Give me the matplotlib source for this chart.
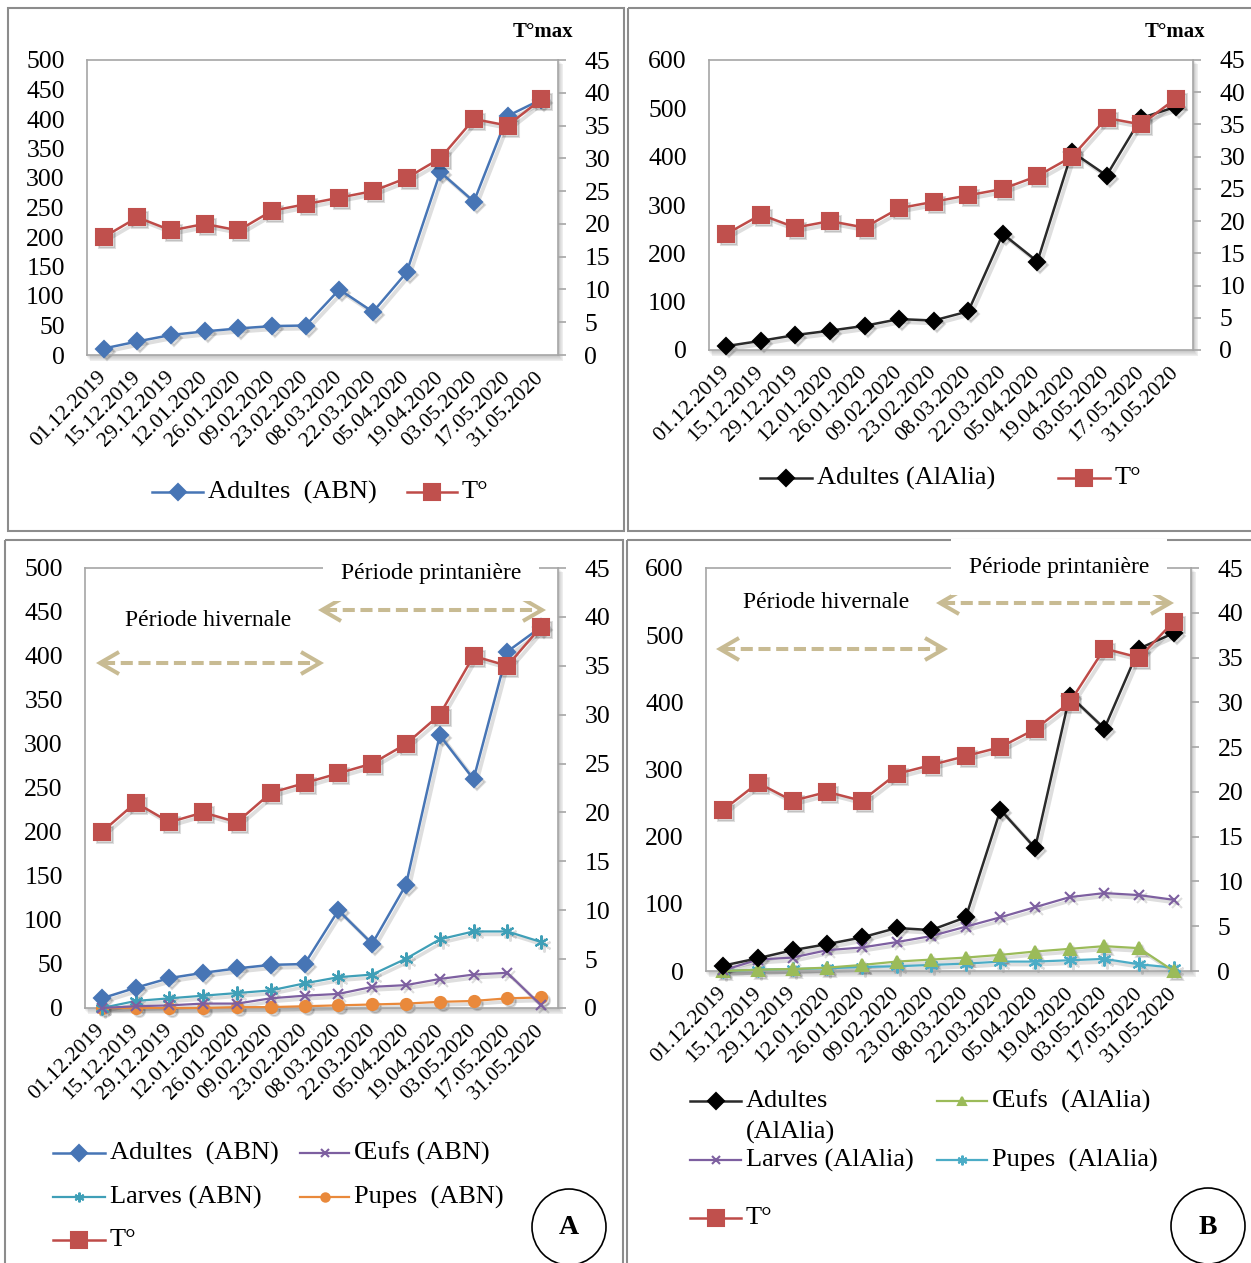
import matplotlib
matplotlib.use("Agg")
import matplotlib.pyplot as plt
import matplotlib.transforms as mtransforms
from matplotlib.lines import Line2D
from matplotlib.patches import Rectangle, Ellipse

plt.rcParams['font.family'] = ['Liberation Serif', 'DejaVu Serif']

W, H = 1251, 1263

dates = ["01.12.2019", "15.12.2019", "29.12.2019", "12.01.2020", "26.01.2020",
         "09.02.2020", "23.02.2020", "08.03.2020", "22.03.2020", "05.04.2020",
         "19.04.2020", "03.05.2020", "17.05.2020", "31.05.2020"]

# maximum temperature (right axis)
temp_max = [18, 21, 19, 20, 19, 22, 23, 24, 25, 27, 30, 36, 35, 39]

# ABN station
adultes_abn = [11, 23, 34, 40, 45, 49, 50, 111, 73, 140, 310, 260, 405, 433]
oeufs_abn = [0, 2, 3, 5, 5, 11, 14, 16, 24, 26, 33, 38, 40, 3]
larves_abn = [0, 8, 11, 14, 17, 20, 28, 35, 38, 56, 78, 87, 87, 75]
pupes_abn = [0, 0, 0, 0, 1, 1, 2, 3, 4, 5, 7, 8, 11, 12]

# AlAlia station
adultes_alalia = [8, 19, 31, 40, 50, 64, 61, 80, 240, 183, 410, 361, 480, 503]
oeufs_alalia = [0, 2, 3, 5, 9, 14, 17, 20, 24, 29, 33, 37, 34, 0]
larves_alalia = [1, 17, 20, 31, 35, 43, 52, 66, 80, 95, 110, 116, 113, 106]
pupes_alalia = [0, 2, 3, 4, 6, 7, 9, 11, 14, 14, 16, 18, 10, 5]

BLUE = '#4775b5'
RED = '#be4b48'
RED_M = '#c0504d'
PURPLE = '#7d5fa0'
TEAL = '#3f9fb7'
ORANGE = '#e9893b'
DARK = '#2a2a2a'
GREEN = '#9bbb59'
CYAN = '#4bacc6'
TAN = '#c8bb93'
FRAME = '#a6a6a6'
ASTER = (6, 2, 0)

fig = plt.figure(figsize=(W / 100, H / 100), dpi=100)
# pixel coordinates, origin top-left
pix = mtransforms.Affine2D().scale(1 / W, -1 / H).translate(0, 1) + fig.transFigure


def make_axes(x0, x1, ytop, ybot, ymax, ystep):
    ax = fig.add_axes([x0 / W, 1 - ybot / H, (x1 - x0) / W, (ybot - ytop) / H])
    # soft drop shadow round the plot area
    for i in range(1, 7):
        fig.add_artist(Rectangle((x0 - 1 + i * 0.7, ytop - 1 + i * 0.9), x1 - x0 + 2, ybot - ytop + 2,
                                 transform=pix, fc='k', ec='none', alpha=0.035, zorder=-1))
    ax.set_xlim(-0.5, 13.5)
    ax.set_ylim(0, ymax)
    ax.set_yticks(range(0, ymax + 1, ystep))
    ax.tick_params(axis='y', length=0, pad=16, labelsize=18.5)
    ax.set_xticks(range(len(dates)))
    ax.set_xticklabels(dates, rotation=45, ha='right', va='center', rotation_mode='anchor', fontsize=15.7)
    ax.tick_params(axis='x', length=0, pad=14)
    for s in ax.spines.values():
        s.set_color(FRAME)
        s.set_linewidth(1.2)
    ax2 = ax.twinx()
    ax2.set_ylim(0, 45)
    ax2.set_yticks(range(0, 46, 5))
    ax2.tick_params(axis='y', length=6, width=1.2, color=FRAME, pad=13, labelsize=18.5)
    for s in ax2.spines.values():
        s.set_visible(False)
    return ax, ax2


def series(ax, values, color, marker, ms, lw, mfc=None, mew=1.5, z=3):
    mfc = color if mfc is None else mfc
    shadow = mtransforms.offset_copy(ax.transData, fig=fig, x=3, y=-3, units='dots')
    ax.plot(range(len(values)), values, color='k', alpha=0.13, lw=lw + 1, marker=marker, ms=ms,
            mfc='k', mec='k', mew=mew, transform=shadow, clip_on=False, zorder=z - 0.5)
    line, = ax.plot(range(len(values)), values, color=color, lw=lw, marker=marker, ms=ms,
                    mfc=mfc, mec=mfc, mew=mew, clip_on=False, zorder=z)
    return line


def key(line, x0, x1, y, label, ms=None):
    fig.add_artist(Line2D([x0, x1], [y, y], color=line.get_color(), lw=line.get_linewidth(), transform=pix))
    fig.add_artist(Line2D([(x0 + x1) / 2], [y], marker=line.get_marker(),
                          ms=ms or line.get_markersize(), mfc=line.get_markerfacecolor(),
                          mec=line.get_markeredgecolor(), mew=line.get_markeredgewidth(),
                          ls='none', transform=pix))
    fig.text(x1 + 5, y, label, transform=pix, va='center', ha='left', fontsize=19)


def period_arrow(x0, x1, y):
    fig.add_artist(Line2D([x0 + 3, x1 - 3], [y, y], color=TAN, lw=2.9, ls=(0, (3, 1.4)),
                          transform=pix, zorder=4))
    for xe, d in ((x0, 1), (x1, -1)):
        fig.add_artist(Line2D([xe + d * 19, xe, xe + d * 19], [y - 11, y, y + 11], color=TAN, lw=2.9,
                              solid_joinstyle='miter', solid_capstyle='butt', transform=pix, zorder=4))


def panel_frame(x0, y0, x1, y1):
    fig.add_artist(Rectangle((x0, y0), x1 - x0, y1 - y0, transform=pix, fill=False,
                             ec='#8c8c8c', lw=1.5, zorder=-2))


panel_frame(8, 8, 624, 531)
panel_frame(628, 8, 1258, 531)
panel_frame(5, 540, 623, 1270)
panel_frame(627, 540, 1258, 1270)

# ---- top left: adults ABN
ax, ax2 = make_axes(87, 558, 60, 355, 500, 50)
a = series(ax, adultes_abn, BLUE, 'D', 8.5, 1.8)
t = series(ax2, temp_max, RED, 's', 11, 1.8, mfc=RED_M)
fig.text(573, 32, 'T°max', transform=pix, ha='right', va='center', fontsize=15, fontweight='bold')
key(a, 152, 203, 492, 'Adultes  (ABN)')
key(t, 407, 457, 492, 'T°')

# ---- top right: adults AlAlia
ax, ax2 = make_axes(709, 1193, 60, 350, 600, 100)
a = series(ax, adultes_alalia, DARK, 'D', 8.5, 1.8, mfc='k')
t = series(ax2, temp_max, RED, 's', 11, 1.8, mfc=RED_M)
fig.text(1205, 32, 'T°max', transform=pix, ha='right', va='center', fontsize=15, fontweight='bold')
key(a, 760, 812, 478, 'Adultes (AlAlia)')
key(t, 1058, 1110, 478, 'T°')

# ---- bottom left: all stages ABN
ax, ax2 = make_axes(85, 558, 568, 1008, 500, 50)
p = series(ax, pupes_abn, ORANGE, 'o', 8, 1.6)
lv = series(ax, larves_abn, TEAL, ASTER, 10, 1.6, mfc=TEAL)
o = series(ax, oeufs_abn, PURPLE, 'x', 7.5, 1.6)
a = series(ax, adultes_abn, BLUE, 'D', 8.5, 1.8)
t = series(ax2, temp_max, RED, 's', 11, 1.8, mfc=RED_M)
period_arrow(100, 320, 663)
period_arrow(322, 542, 610)
fig.text(208, 620, 'Période hivernale', transform=pix, ha='center', va='center', fontsize=17)
fig.text(431, 573, 'Période printanière', transform=pix, ha='center', va='center', fontsize=17,
         bbox=dict(boxstyle='square,pad=0.75', fc='white', ec='none'), zorder=5)
key(a, 53, 105, 1153, 'Adultes  (ABN)')
key(o, 300, 349, 1153, 'Œufs (ABN)', ms=6)
key(lv, 53, 105, 1197, 'Larves (ABN)', ms=7)
key(p, 300, 349, 1197, 'Pupes  (ABN)', ms=6)
key(t, 53, 105, 1240, 'T°')
fig.add_artist(Ellipse((569, 1227), 74, 76, transform=pix, fill=False, ec='k', lw=1.2))
fig.text(569, 1228, 'A', transform=pix, ha='center', va='center', fontsize=20, fontweight='bold')

# ---- bottom right: all stages AlAlia
ax, ax2 = make_axes(706, 1191, 568, 971, 600, 100)
pp = series(ax, pupes_alalia, CYAN, ASTER, 10, 1.6, mfc=CYAN)
oe = series(ax, oeufs_alalia, GREEN, '^', 8, 1.6)
lv = series(ax, larves_alalia, PURPLE, 'x', 7.5, 1.6)
a = series(ax, adultes_alalia, DARK, 'D', 8.5, 1.8, mfc='k')
t = series(ax2, temp_max, RED, 's', 11, 1.8, mfc=RED_M)
period_arrow(720, 944, 649)
period_arrow(940, 1170, 603)
fig.text(826, 602, 'Période hivernale', transform=pix, ha='center', va='center', fontsize=17)
fig.text(1059, 567, 'Période printanière', transform=pix, ha='center', va='center', fontsize=17,
         bbox=dict(boxstyle='square,pad=0.75', fc='white', ec='none'), zorder=5)
key(a, 690, 741, 1101, 'Adultes')
fig.text(746, 1132, '(AlAlia)', transform=pix, va='center', ha='left', fontsize=19)
key(oe, 937, 987, 1101, 'Œufs  (AlAlia)', ms=6)
key(lv, 690, 741, 1160, 'Larves (AlAlia)', ms=6)
key(pp, 937, 987, 1160, 'Pupes  (AlAlia)', ms=7)
key(t, 690, 741, 1218, 'T°')
fig.add_artist(Ellipse((1208, 1226), 74, 76, transform=pix, fill=False, ec='k', lw=1.2))
fig.text(1208, 1227, 'B', transform=pix, ha='center', va='center', fontsize=20, fontweight='bold')

fig.savefig('out.png', dpi=100, facecolor='white')
